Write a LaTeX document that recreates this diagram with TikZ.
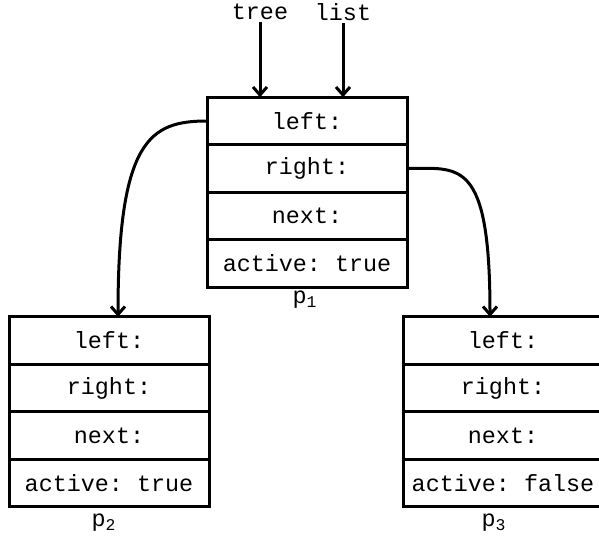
\documentclass[tikz,border=0pt]{standalone}
\usepackage{fontspec}
\setmonofont{Liberation Mono}
\usetikzlibrary{positioning,arrows.meta}
\tikzset{cell/.style={rectangle, draw, line width=1.5pt, outer sep=0pt, inner sep=0pt, minimum width=100pt, minimum height=23.75pt, font=\fontsize{11.7}{14}\selectfont\ttfamily}}
\tikzset{ptr/.style={line width=1.5pt, -{Straight Barb[length=4pt,width=7pt]}}}
\tikzset{ptrname/.style={font=\fontsize{11.7}{14}\selectfont\ttfamily, inner sep=1pt}}

\begin{document}
\begin{tikzpicture}[x=0.5pt, y=-0.5pt]
  \useasboundingbox (0,0) rectangle (599,537);

  % record p1
  \node[cell] (p1left) at (307,121) {left:};
  \node[cell, below=0pt of p1left] (p1right) {right:};
  \node[cell, below=0pt of p1right] (p1next) {next:};
  \node[cell, below=0pt of p1next] (p1active) {active: true};
  \node[ptrname] (p1name) at (305,300) {p\textsubscript{1}};

  % record p2
  \node[cell] (p2left) at (109,340.5) {left:};
  \node[cell, below=0pt of p2left] (p2right) {right:};
  \node[cell, below=0pt of p2right] (p2next) {next:};
  \node[cell, below=0pt of p2next] (p2active) {active: true};
  \node[ptrname] (p2name) at (104,523) {p\textsubscript{2}};

  % record p3
  \node[cell] (p3left) at (503,340.5) {left:};
  \node[cell, below=0pt of p3left] (p3right) {right:};
  \node[cell, below=0pt of p3right] (p3next) {next:};
  \node[cell, below=0pt of p3next] (p3active) {active: false};
  \node[ptrname] (p3name) at (494,523) {p\textsubscript{3}};

  % roots
  \node[ptrname] (tree) at (260,12) {tree};
  \node[ptrname] (list) at (343,12) {list};
  \draw[ptr] (tree) -- (tree |- p1left.north);
  \draw[ptr] (list) -- (list |- p1left.north);

  % children
  \draw[ptr] (p1left.west) .. controls +(-57,0) and +(0,-177) .. ([xshift=4.5pt]p2left.north);
  \draw[ptr] (p1right.east) .. controls +(52,0) and +(0,-160) .. ([xshift=-6.5pt]p3left.north);
\end{tikzpicture}
\end{document}
